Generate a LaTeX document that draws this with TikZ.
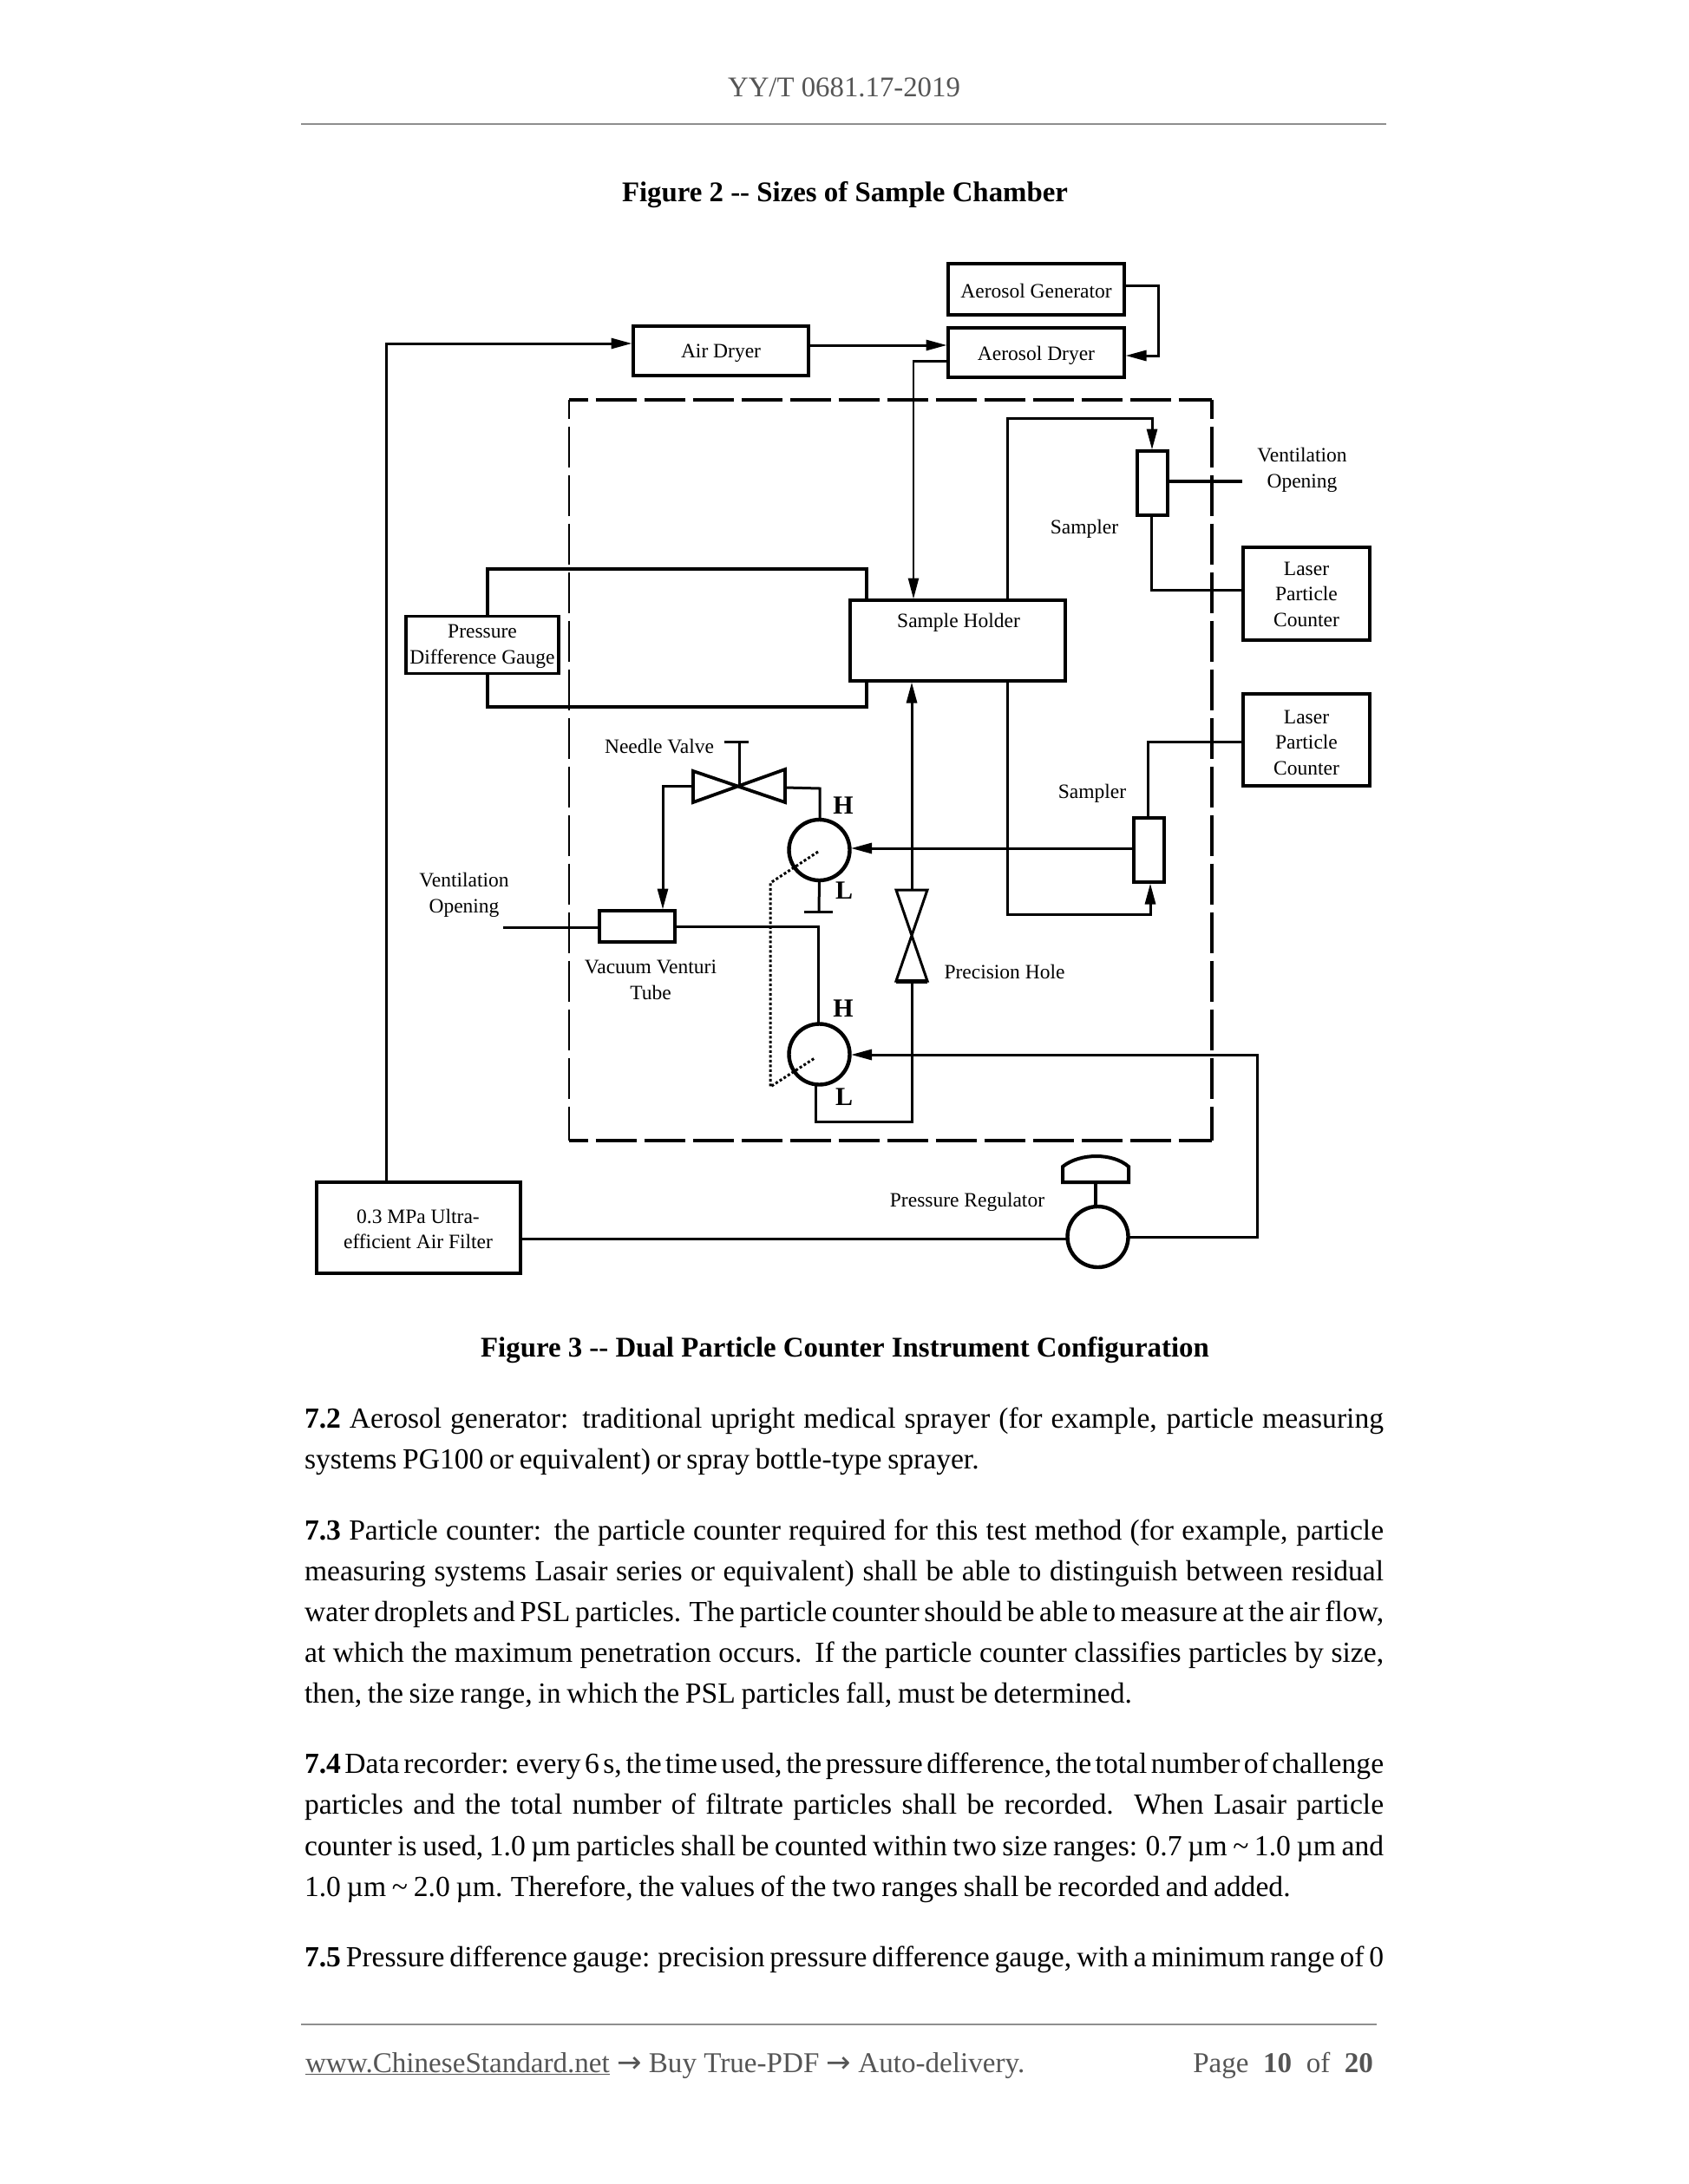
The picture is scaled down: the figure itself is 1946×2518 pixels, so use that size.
\documentclass[tikz,border=0pt]{standalone}
\usepackage{fontspec}
\setmainfont{Liberation Serif}
\newfontfamily\arrowfont{DejaVu Sans}
\usetikzlibrary{arrows.meta}
\hbadness=10000 \hfuzz=50pt
\newcommand{\bodyfont}{\fontsize{33.6}{47}\selectfont\spaceskip=.2em plus 1em minus .12em\relax}
\newcommand{\jline}[1]{\makebox[1244pt][s]{#1}}
\newcommand{\tld}{\textasciitilde}
\newcommand{\arr}{{\arrowfont\fontsize{34}{40}\selectfont →}}
\newcommand{\lift}[1]{\rule{0pt}{#1pt}}
\definecolor{hdr}{HTML}{555555}
\definecolor{rulec}{HTML}{8E8E8E}
\tikzset{
  lbl/.style={inner sep=0pt,outer sep=0pt,align=center,font=\fontsize{23.5}{29.8}\selectfont},
  hlbl/.style={anchor=base,inner sep=0pt,outer sep=0pt,font=\fontsize{30}{32}\selectfont\bfseries},
  boxn/.style={draw,line width=4pt,inner sep=0pt,outer sep=0pt,align=center,font=\fontsize{23.5}{29.8}\selectfont},
  dial/.style={draw,circle,line width=4.4pt,minimum size=70pt,inner sep=0pt,outer sep=0pt},
  pipe/.style={line width=3pt,line join=miter},
  thickpipe/.style={line width=4pt,line join=miter},
  flow/.style={-{Stealth[inset=0pt,length=24pt,width=12pt]},shorten >=1.5pt},
  bline/.style={anchor=base west,inner sep=0pt,outer sep=0pt,font=\bodyfont},
  capn/.style={anchor=base,inner sep=0pt,outer sep=0pt,font=\fontsize{32.85}{40}\selectfont\bfseries},
  hfline/.style={inner sep=0pt,outer sep=0pt,text=hdr,font=\fontsize{33.1}{40}\selectfont},
  chamber/.style={dash pattern=on 47pt off 9pt,dash phase=25.5pt}
}
\begin{document}
\begin{tikzpicture}[x=1pt,y=-1pt]
\useasboundingbox (0,0) rectangle (1946,2518);
% header and captions
\node[hfline,anchor=base,font=\fontsize{32.8}{40}\selectfont] (hdrtxt) at (973,112) {YY/T 0681.17-2019};
\coordinate (ruleA) at (347,143); \coordinate (ruleB) at (1598,143);
\draw[rulec,line width=1.6pt] (ruleA) -- (ruleB);
\node[capn] (cap2) at (974,233) {Figure 2 -{}- Sizes of Sample Chamber};
\node[capn] (cap3) at (974,1564) {Figure 3 -{}- Dual Particle Counter Instrument Configuration};
% chamber
\draw[chamber,line width=4.2pt] (656,461) -- (1397,461);
\draw[chamber,line width=4.2pt] (656,1315) -- (1397,1315);
\draw[chamber,line width=2.8pt] (656,461) -- (656,1315);
\draw[chamber,line width=3.6pt] (1397,461) -- (1397,1315);
% boxes
\node[boxn,minimum width=203pt,minimum height=59pt] (agen) at (1194.5,333) {\lift{21}Aerosol Generator};
\node[boxn,minimum width=203pt,minimum height=57pt] (adry) at (1194.5,406.5) {\lift{23}Aerosol Dryer};
\node[boxn,minimum width=202pt,minimum height=57pt] (air) at (831,404) {\lift{23}Air Dryer};
\node[boxn,minimum width=176pt,minimum height=66pt,line width=3.4pt] (pdg) at (556,743.5) {\lift{19}Pressure\\Difference Gauge};
\node[boxn,minimum width=248pt,minimum height=93pt] (hold) at (1104,738.5) {};
\node[lbl] (holdt) at (1105,717.5) {Sample Holder};
\node[boxn,minimum width=146pt,minimum height=107pt] (las1) at (1506,684.5) {\lift{17}Laser\\Particle\\Counter};
\node[boxn,minimum width=146pt,minimum height=106pt] (las2) at (1506,853) {\lift{22}Laser\\Particle\\Counter};
\node[boxn,minimum width=35pt,minimum height=74pt] (samp1) at (1328,557) {};
\node[boxn,minimum width=35pt,minimum height=74pt] (samp2) at (1324.5,980) {};
\node[boxn,minimum width=87pt,minimum height=36pt] (vent) at (734,1068) {};
\node[boxn,minimum width=235pt,minimum height=105pt] (filt) at (482,1415.5) {\lift{19}0.3 MPa Ultra-\\efficient Air Filter};
\node[dial] (g1) at (944.5,980) {};
\node[dial] (g2) at (944.5,1215.5) {};
\node[dial] (reg) at (1265.5,1426) {};
% labels
\node[lbl] (vo1) at (1501,541.5) {Ventilation\\Opening};
\node[lbl] (vo2) at (535,1032) {Ventilation\\Opening};
\node[lbl] (s1) at (1250,609.5) {Sampler};
\node[lbl] (s2) at (1259,915) {Sampler};
\node[lbl] (nv) at (760,860.5) {Needle Valve};
\node[lbl] (vv) at (750,1130) {Vacuum Venturi\\Tube};
\node[lbl] (ph) at (1158,1120.5) {Precision Hole};
\node[lbl] (pr) at (1115,1385.5) {Pressure Regulator};
\node[hlbl] (h1) at (972,938) {H};
\node[hlbl] (l1) at (973,1036) {L};
\node[hlbl] (h2) at (972,1172) {H};
\node[hlbl] (l2) at (973,1274) {L};
% needle valve
\coordinate (nvC) at (852,906);
\coordinate (nvL) at (799,906); \coordinate (nvR) at (905,908);
\draw[line width=3.8pt,line join=miter] (799,889) -- (905,925) -- (905,887) -- (799,925) -- cycle;
\coordinate (nvTop) at (852,855);
\draw[pipe] (nvC) -- (nvTop);
\coordinate (nvA) at (835,855); \coordinate (nvB) at (863,855);
\draw[pipe] (nvA) -- (nvB);
% precision hole
\coordinate (phT) at (1051,1026); \coordinate (phB) at (1051,1131);
\draw[line width=3pt,line join=miter] (1033,1026) -- (1069,1026) -- (1033,1131) -- (1069,1131) -- cycle;
\draw[line width=5pt] (1033,1131) -- (1069,1131);
% regulator head
\coordinate (domeB) at (1263,1363);
\draw[line width=4pt,line join=miter] (1225,1363) -- (1225,1345) .. controls (1245,1329) and (1283,1329) .. (1301,1345) -- (1301,1363) -- cycle;
\draw[line width=4pt] (domeB) -- (reg.north -| domeB);
% connectors
\coordinate (c1) at (445,396);
\draw[pipe,flow] (filt.north -| c1) -- (c1) -- (air.west |- c1);
\coordinate (c2) at (1335,329); \coordinate (c3) at (1335,410);
\draw[pipe,flow] (agen.east |- c2) -- (c2) -- (c3) -- (adry.east |- c3);
\coordinate (c4) at (934,398);
\draw[pipe,flow] (air.east |- c4) -- (adry.west |- c4);
\coordinate (c5) at (1053,416.5);
\draw[line width=2.4pt,flow] (adry.west |- c5) -- (c5) -- (hold.north -| c5);
\coordinate (c6) at (1161,482); \coordinate (c7) at (1328,482);
\draw[pipe,flow] (hold.north -| c6) -- (c6) -- (c7) -- (samp1.north -| c7);
\coordinate (c8) at (1327,680);
\draw[pipe] (samp1.south -| c8) -- (c8) -- (las1.west |- c8);
\coordinate (c9) at (1432,555);
\draw[line width=3.6pt] (samp1.east |- c9) -- (c9);
\coordinate (c10) at (562,656); \coordinate (c11) at (999,656);
\draw[thickpipe] (pdg.north -| c10) -- (c10) -- (c11) -- (hold.north -| c11);
\coordinate (c12) at (562,815); \coordinate (c13) at (999,815);
\draw[thickpipe] (pdg.south -| c12) -- (c12) -- (c13) -- (hold.south -| c13);
\draw[pipe,flow] (phT) -- (hold.south -| phT);
\coordinate (c14) at (1161,1054); \coordinate (c15) at (1326,1054);
\draw[pipe,flow] (hold.south -| c14) -- (c14) -- (c15) -- (samp2.south -| c15);
\coordinate (c16) at (1323,855);
\draw[pipe] (samp2.north -| c16) -- (c16) -- (las2.west |- c16);
\coordinate (c17) at (1304,978);
\draw[pipe,flow] (samp2.west |- c17) -- (g1.east |- c17);
\coordinate (c18) at (764,906);
\draw[pipe,flow] (nvL) -- (c18) -- (vent.north -| c18);
\coordinate (c19) at (945,909);
\draw[pipe] (nvR) -- (c19) -- (g1.north -| c19);
\coordinate (c20) at (944,1051);
\coordinate (c21) at (927,1051); \coordinate (c22) at (960,1051);
\draw[pipe] (g1.south) -- (c20);
\draw[pipe] (c21) -- (c22);
\coordinate (c23) at (580,1069);
\draw[line width=3pt] (c23) -- (vent.west |- c23);
\coordinate (c24) at (943,1068);
\draw[line width=3pt] (vent.east |- c24) -- (c24) -- (g2.north -| c24);
\coordinate (c25) at (940,1293);
\draw[pipe] (g2.south -| c25) -- (c25) -- (c25 -| phB) -- (phB);
\coordinate (c26) at (1449,1216); \coordinate (c27) at (1449,1426);
\draw[pipe,flow] (reg.east |- c27) -- (c27) -- (c26) -- (g2.east |- c26);
\coordinate (c28) at (1229,1428);
\draw[pipe] (filt.east |- c28) -- (reg.west |- c28);
% dotted link
\coordinate (d1) at (943,982); \coordinate (d2) at (888,1018);
\coordinate (d3) at (888,1253); \coordinate (d4) at (939,1220);
\draw[line width=3pt,dash pattern=on 3pt off 2.5pt] (d1) -- (d2) -- (d3) -- (d4);
% body text
\node[bline] (t1) at (351,1646) {\jline{\textbf{7.2} Aerosol generator: traditional upright medical sprayer (for example, particle measuring}};
\node[bline] (t2) at (351,1693) {systems PG100 or equivalent) or spray bottle-type sprayer.};
\node[bline] (t3) at (351,1775) {\jline{\textbf{7.3} Particle counter: the particle counter required for this test method (for example, particle}};
\node[bline] (t4) at (351,1822) {\jline{measuring systems Lasair series or equivalent) shall be able to distinguish between residual}};
\node[bline] (t5) at (351,1869) {\jline{water droplets and PSL particles. The particle counter should be able to measure at the air flow,}};
\node[bline] (t6) at (351,1916) {\jline{at which the maximum penetration occurs. If the particle counter classifies particles by size,}};
\node[bline] (t7) at (351,1963) {then, the size range, in which the PSL particles fall, must be determined.};
\node[bline] (t8) at (351,2044.5) {\jline{\textbf{7.4} Data recorder: every 6 s, the time used, the pressure difference, the total number of challenge}};
\node[bline] (t9) at (351,2091.5) {\jline{particles and the total number of filtrate particles shall be recorded. When Lasair particle}};
\node[bline] (t10) at (351,2139) {\jline{counter is used, 1.0 µm particles shall be counted within two size ranges: 0.7 µm \tld\ 1.0 µm and}};
\node[bline] (t11) at (351,2186) {1.0 µm \tld\ 2.0 µm. Therefore, the values of the two ranges shall be recorded and added.};
\node[bline] (t12) at (351,2267) {\jline{\textbf{7.5} Pressure difference gauge: precision pressure difference gauge, with a minimum range of 0}};
% footer
\coordinate (ruleC) at (347,2334); \coordinate (ruleD) at (1587,2334);
\draw[rulec,line width=2pt] (ruleC) -- (ruleD);
\node[hfline,anchor=base west] (f1) at (352,2389) {\underline{www.ChineseStandard.net} \arr{} Buy True-PDF \arr{} Auto-delivery.};
\node[hfline,anchor=base east] (f2) at (1583,2389) {Page\hspace{.5em}\textbf{10}\hspace{.5em}of\hspace{.5em}\textbf{20}};
\end{tikzpicture}
\end{document}
